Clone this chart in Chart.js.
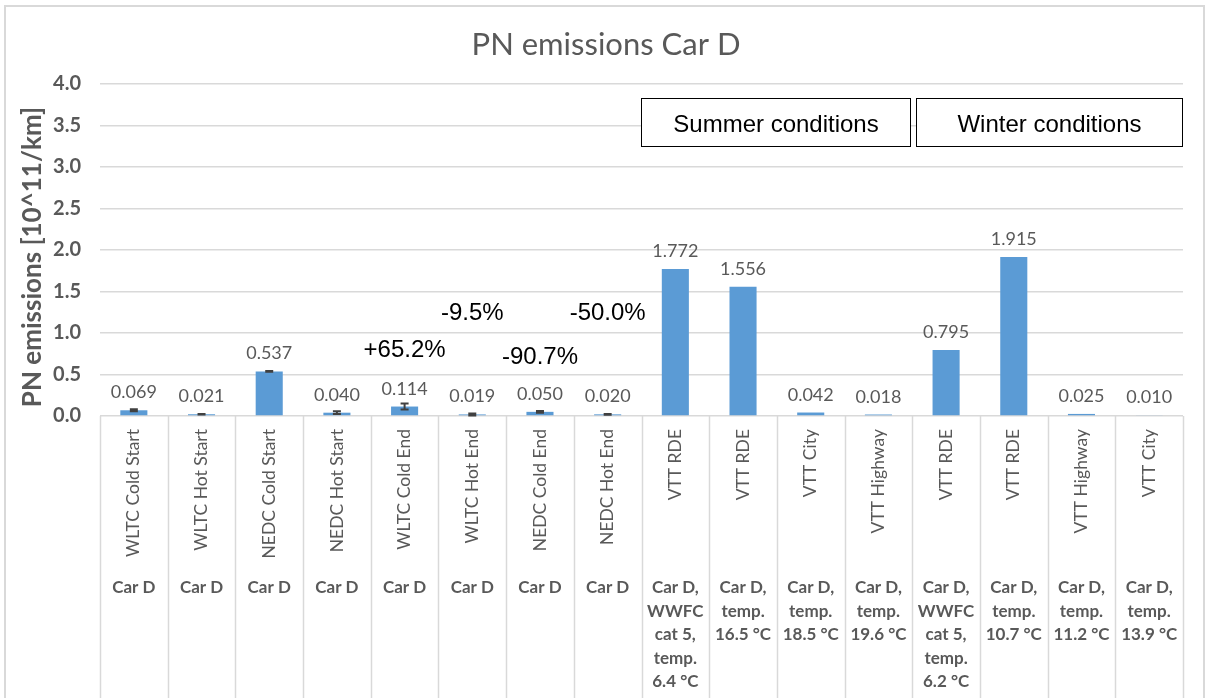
<!DOCTYPE html>
<html>
<head>
<meta charset="utf-8">
<title>PN emissions Car D</title>
<script src="https://cdn.jsdelivr.net/npm/chart.js@4.4.1/dist/chart.umd.min.js"></script>
<style>
  html, body { margin: 0; padding: 0; background: #fff; overflow: hidden; }
  #wrap { position: relative; width: 1206px; height: 698px; }
  #frame { position: absolute; left: 4px; top: 5px; width: 1201px; height: 720px; border: 2px solid #d9d9d9; box-sizing: border-box; pointer-events: none; }
  canvas { position: absolute; left: 0; top: 0; }
</style>
</head>
<body>
<div id="wrap">
  <canvas id="grafico" width="1206" height="698"></canvas>
  <div id="frame"></div>
</div>
<script>
const categorias = [
    'WLTC Cold Start', 'WLTC Hot Start', 'NEDC Cold Start', 'NEDC Hot Start',
    'WLTC Cold End', 'WLTC Hot End', 'NEDC Cold End', 'NEDC Hot End',
    'VTT RDE', 'VTT RDE', 'VTT City', 'VTT Highway',
    'VTT RDE', 'VTT RDE', 'VTT Highway', 'VTT City'
];
const grupos = [
    ['Car D'], ['Car D'], ['Car D'], ['Car D'],
    ['Car D'], ['Car D'], ['Car D'], ['Car D'],
    ['Car D,', 'WWFC', 'cat 5,', 'temp.', '6.4 °C'],
    ['Car D,', 'temp.', '16.5 °C'],
    ['Car D,', 'temp.', '18.5 °C'],
    ['Car D,', 'temp.', '19.6 °C'],
    ['Car D,', 'WWFC', 'cat 5,', 'temp.', '6.2 °C'],
    ['Car D,', 'temp.', '10.7 °C'],
    ['Car D,', 'temp.', '11.2 °C'],
    ['Car D,', 'temp.', '13.9 °C']
];
const valores = [0.069, 0.021, 0.537, 0.040, 0.114, 0.019, 0.050, 0.020,
                 1.772, 1.556, 0.042, 0.018, 0.795, 1.915, 0.025, 0.010];
const erros = [0.012, 0.003, 0.004, 0.016, 0.036, 0.012, 0.010, 0.005,
               null, null, null, null, null, null, null, null];
const yTicks = [0, 0.5, 1.0, 1.5, 2.0, 2.5, 3.0, 3.5, 4.0];

// percentage notes (category index, level in data units)
const variacoes = ['+65.2%', '-9.5%', '-90.7%', '-50.0%'];
const variacoesIdx = [4, 5, 6, 7];
const variacoesNivel = [0.795, 1.24, 0.71, 1.24];

// condition boxes (category range, level range)
const condicoes = ['Summer conditions', 'Winter conditions'];
const condicoesDe = [7.49, 11.55];
const condicoesAte = [11.46, 15.48];
const condicoesNivel = [3.25, 3.83];

const cinza = '#595959';
const fonte = 'Lato, "Open Sans", sans-serif';

const extrasPlugin = {
    id: 'extras',
    afterDatasetsDraw(chart) {
        const ctx = chart.ctx;
        const y = chart.scales.y;
        const meta = chart.getDatasetMeta(0);

        // error bars
        ctx.save();
        ctx.strokeStyle = '#404040';
        ctx.lineWidth = 2;
        meta.data.forEach((bar, i) => {
            const e = erros[i];
            if (e == null) return;
            const top = y.getPixelForValue(valores[i] + e);
            const bot = y.getPixelForValue(Math.max(0, valores[i] - e));
            ctx.beginPath();
            ctx.moveTo(bar.x, top); ctx.lineTo(bar.x, bot);
            ctx.moveTo(bar.x - 4, top); ctx.lineTo(bar.x + 4, top);
            ctx.moveTo(bar.x - 4, bot); ctx.lineTo(bar.x + 4, bot);
            ctx.stroke();
        });
        ctx.restore();

        // data labels
        ctx.save();
        ctx.fillStyle = cinza;
        ctx.font = '18px ' + fonte;
        ctx.textAlign = 'center';
        ctx.textBaseline = 'alphabetic';
        meta.data.forEach((bar, i) => {
            ctx.fillText(valores[i].toFixed(3), bar.x, bar.y - 12);
        });
        ctx.restore();
    },
    afterDraw(chart) {
        const ctx = chart.ctx;
        const x = chart.scales.x;
        const y = chart.scales.y;
        const area = chart.chartArea;
        const passo = (area.right - area.left) / categorias.length;

        // title
        ctx.save();
        ctx.fillStyle = cinza;
        ctx.font = '31px ' + fonte;
        ctx.textAlign = 'center';
        ctx.textBaseline = 'middle';
        ctx.fillText('PN emissions Car D', chart.width / 2 + 3, 45);
        ctx.restore();

        // y axis title
        ctx.save();
        ctx.fillStyle = cinza;
        ctx.font = 'bold 26px ' + fonte;
        ctx.textAlign = 'center';
        ctx.textBaseline = 'middle';
        ctx.translate(33, (area.top + area.bottom) / 2 + 7);
        ctx.rotate(-Math.PI / 2);
        ctx.fillText('PN emissions [10^11/km]', 0, 0);
        ctx.restore();

        // category separators
        ctx.save();
        ctx.strokeStyle = '#d9d9d9';
        ctx.lineWidth = 1.5;
        for (let i = 0; i <= categorias.length; i++) {
            const px = Math.round(area.left + i * passo) + 0.5;
            ctx.beginPath();
            ctx.moveTo(px, area.bottom);
            ctx.lineTo(px, chart.height);
            ctx.stroke();
        }
        ctx.restore();

        // rotated category labels
        ctx.save();
        ctx.fillStyle = cinza;
        ctx.font = '17.5px ' + fonte;
        ctx.textAlign = 'right';
        ctx.textBaseline = 'middle';
        categorias.forEach((c, i) => {
            ctx.save();
            ctx.translate(x.getPixelForValue(i), area.bottom + 13);
            ctx.rotate(-Math.PI / 2);
            ctx.fillText(c, 0, 0);
            ctx.restore();
        });
        ctx.restore();

        // group labels
        ctx.save();
        ctx.fillStyle = cinza;
        ctx.font = 'bold 17px ' + fonte;
        ctx.textAlign = 'center';
        ctx.textBaseline = 'middle';
        grupos.forEach((linhas, i) => {
            linhas.forEach((t, k) => {
                ctx.fillText(t, x.getPixelForValue(i), area.bottom + 172 + k * 23.5);
            });
        });
        ctx.restore();

        // percentage notes
        ctx.save();
        ctx.fillStyle = '#000';
        ctx.font = '24px "Liberation Sans", Arial, sans-serif';
        ctx.textAlign = 'center';
        ctx.textBaseline = 'middle';
        variacoes.forEach((t, i) => {
            ctx.fillText(t, x.getPixelForValue(variacoesIdx[i]), y.getPixelForValue(variacoesNivel[i]));
        });

        // condition boxes
        ctx.strokeStyle = '#000';
        ctx.lineWidth = 1;
        condicoes.forEach((t, i) => {
            const x0 = Math.round(x.getPixelForValue(condicoesDe[i])) + 0.5;
            const x1 = Math.round(x.getPixelForValue(condicoesAte[i])) + 0.5;
            const y0 = Math.round(y.getPixelForValue(condicoesNivel[1])) + 0.5;
            const y1 = Math.round(y.getPixelForValue(condicoesNivel[0])) + 0.5;
            ctx.fillStyle = '#fff';
            ctx.fillRect(x0, y0, x1 - x0, y1 - y0);
            ctx.strokeRect(x0, y0, x1 - x0, y1 - y0);
            ctx.fillStyle = '#000';
            ctx.fillText(t, (x0 + x1) / 2, (y0 + y1) / 2 + 3);
        });
        ctx.restore();
    }
};

new Chart(document.getElementById('grafico'), {
    type: 'bar',
    data: {
        labels: categorias,
        datasets: [{
            data: valores,
            backgroundColor: '#5b9bd5',
            borderWidth: 0,
            barPercentage: 0.4,
            categoryPercentage: 1.0
        }]
    },
    options: {
        responsive: false,
        animation: false,
        events: [],
        layout: { padding: { left: 10, right: 23, top: 84, bottom: 0 } },
        plugins: {
            legend: { display: false },
            title: { display: false },
            tooltip: { enabled: false }
        },
        scales: {
            x: {
                grid: { display: false },
                border: { display: false },
                ticks: { display: false },
                afterFit: (scale) => { scale.height = 282; }
            },
            y: {
                min: 0,
                max: 4,
                afterBuildTicks: (scale) => { scale.ticks = yTicks.map((v) => ({ value: v })); },
                grid: { color: '#d9d9d9', lineWidth: 1.5, drawTicks: false },
                border: { display: false },
                ticks: {
                    color: cinza,
                    font: { family: fonte, size: 20, weight: 'bold' },
                    padding: 19,
                    callback: (v) => Number(v).toFixed(1)
                },
                afterFit: (scale) => { scale.width = 90; }
            }
        }
    },
    plugins: [extrasPlugin]
});
</script>
</body>
</html>
